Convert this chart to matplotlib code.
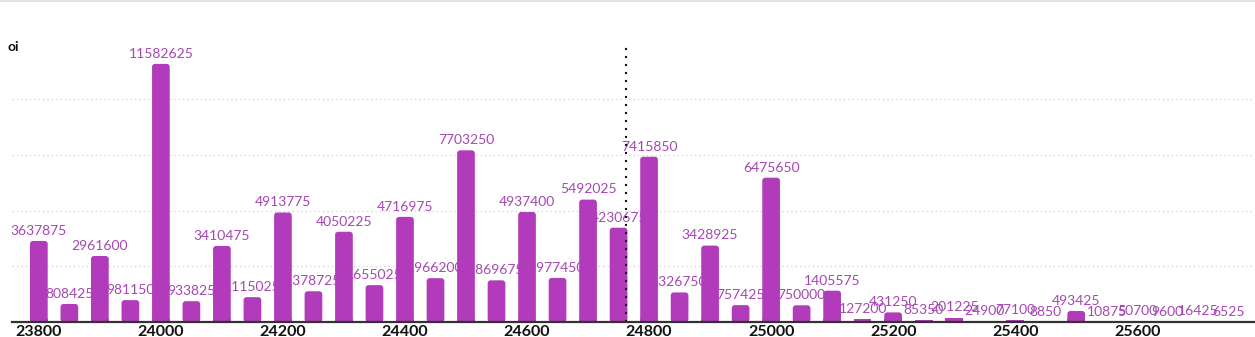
import matplotlib
matplotlib.use("Agg")
import matplotlib.pyplot as plt
from matplotlib.patches import FancyBboxPatch, Rectangle
from matplotlib.lines import Line2D

# Open interest per strike
strikes = [23800, 23850, 23900, 23950, 24000, 24050, 24100, 24150, 24200, 24250,
           24300, 24350, 24400, 24450, 24500, 24550, 24600, 24650, 24700, 24750,
           24800, 24850, 24900, 24950, 25000, 25050, 25100, 25150, 25200, 25250,
           25300, 25350, 25400, 25450, 25500, 25550, 25600, 25650, 25700, 25750]
oi = [3637875, 808425, 2961600, 981150, 11582625, 933825, 3410475, 1115025, 4913775, 1378725,
      4050225, 1655025, 4716975, 1966200, 7703250, 1869675, 4937400, 1977450, 5492025, 4230675,
      7415850, 1326750, 3428925, 757425, 6475650, 750000, 1405575, 127200, 431250, 85350,
      201225, 24900, 77100, 8850, 493425, 10875, 50700, 9600, 16425, 6525]
spot = 24762
tick_strikes = [23800, 24000, 24200, 24400, 24600, 24800, 25000, 25200, 25400, 25600]
grid_levels = [2500000, 5000000, 7500000, 10000000]

BAR = "#B13BBA"
LABEL = "#A547B2"

W, H = 1255, 337
fig = plt.figure(figsize=(W / 100, H / 100), dpi=100)
ax = fig.add_axes([12 / W, 15 / H, 1 - 12 / W, (322 - 45) / H])
ax.set_xlim(23756, 25793)
ax.set_ylim(0, 12.43e6)

for s in ("top", "right", "left"):
    ax.spines[s].set_visible(False)
ax.spines["bottom"].set_color("#333333")
ax.spines["bottom"].set_linewidth(1.6)
ax.spines["bottom"].set_zorder(6)

ax.set_yticks([])
ax.set_xticks(tick_strikes)
ax.set_xticklabels([str(t) for t in tick_strikes], fontfamily="Lato",
                   fontweight="bold", fontsize=11.5, color="#111111")
ax.tick_params(axis="x", length=0, pad=2)

for g in grid_levels:
    ax.axhline(g, color="#cfcfcf", lw=0.9, linestyle=(0, (1, 2.5)), zorder=0)

bars = ax.bar(strikes, oi, width=29, color=BAR, zorder=3)

# pixel -> data scale, used to give bars rounded tops
x_per_px = (25793 - 23756) / (W - 12)
y_per_px = 12.43e6 / (322 - 45)
r_px = 3.0
for rect in bars:
    x0, w, h = rect.get_x(), rect.get_width(), rect.get_height()
    if h / y_per_px > 2 * r_px + 1:
        rect.set_visible(False)
        rx = r_px * x_per_px
        ry = r_px * y_per_px
        top = FancyBboxPatch((x0, 0), w, h,
                             boxstyle=f"round,pad=0,rounding_size={rx}",
                             mutation_aspect=y_per_px / x_per_px,
                             facecolor=BAR, edgecolor="none", zorder=3)
        ax.add_patch(top)
        ax.add_patch(Rectangle((x0, 0), w, ry, facecolor=BAR,
                               edgecolor="none", zorder=3))

for s, v in zip(strikes, oi):
    ax.annotate(str(v), (s, v), xytext=(0, 3), textcoords="offset points",
                ha="center", va="bottom", fontsize=10, fontfamily="Lato",
                color=LABEL, zorder=2)

ax.vlines(spot, 0, 12.35e6, colors="#111111", lw=1.5,
          linestyles=[(0, (1, 2.84))], zorder=5)

fig.text(7 / W, 1 - 47 / H, "oi", fontsize=10, fontweight="bold",
         fontfamily="Lato", color="#111111", va="center", ha="left")
fig.add_artist(Line2D([0, 1], [1 - 0.8 / H, 1 - 0.8 / H],
                      transform=fig.transFigure, color="#dddddd", lw=1.2))

fig.savefig("out.png", dpi=100, facecolor="white")
